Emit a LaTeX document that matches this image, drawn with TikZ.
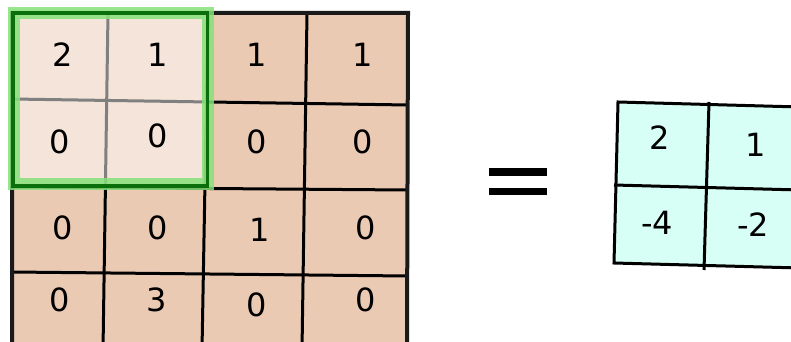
\documentclass[tikz,border=0pt]{standalone}
\usepackage{fontspec}
\setmainfont{DejaVu Sans}
\definecolor{cellA}{HTML}{EBCAB4}
\definecolor{cellB}{HTML}{D8FFF5}
\definecolor{gband}{HTML}{86E07A}
\definecolor{gdark}{HTML}{0A6E0A}
\definecolor{gridk}{HTML}{1A1A1A}
\tikzset{
  num/.style={font=\fontsize{32}{38}\selectfont, inner sep=0pt, anchor=center},
  border/.style={draw=gridk, line width=4pt},
  gline/.style={draw=black, line width=3pt},
}
\begin{document}
\begin{tikzpicture}[x=1pt,y=-1pt]
\useasboundingbox (0,0) rectangle (791,342);
\clip (0,0) rectangle (791,342);
% big grid fill
\fill[cellA] (12,13) -- (408,13) -- (407,350) -- (12,350) -- cycle;
% inner lines
\draw[gline] (12,99) -- (408,105);
\draw[gline] (12,187) -- (408,190);
\draw[gline] (12,272) -- (408,276);
\draw[gline] (108,13) -- (103,350);
\draw[gline] (208,13) -- (202,350);
\draw[gline] (307,13) -- (302,350);
% outer border
\draw[border] (12,350) -- (12,13) -- (408,13) -- (407,350);
% green window overlay
\fill[white, fill opacity=0.5] (14,13) rectangle (207.5,184);
\draw[gband, draw opacity=0.85, line width=12pt] (14,13) rectangle (207.5,184);
\draw[gdark, line width=3.5pt] (13,13) -- (207.5,13) -- (207.5,186) -- (13,186) -- cycle;
% numbers big grid
\node[num] (a11) at (63,55) {2};
\node[num] (a12) at (158,55) {1};
\node[num] (a13) at (257,55) {1};
\node[num] (a14) at (363,55) {1};
\node[num] (a21) at (60,142) {0};
\node[num] (a22) at (158,136) {0};
\node[num] (a23) at (257,142) {0};
\node[num] (a24) at (363,142) {0};
\node[num] (a31) at (63,228) {0};
\node[num] (a32) at (158,228) {0};
\node[num] (a33) at (260,230) {1};
\node[num] (a34) at (366,228) {0};
\node[num] (a41) at (60,300) {0};
\node[num] (a42) at (157,300) {3};
\node[num] (a43) at (257,305) {0};
\node[num] (a44) at (366,300) {0};
% equals sign
\fill[black] (489,168) rectangle (547,176);
\fill[black] (489,188) rectangle (547,195);
% result grid
\fill[cellB] (618,102) -- (800,107) -- (800,268) -- (614,263) -- cycle;
\draw[gline] (614,185) -- (800,190);
\draw[gline] (709,102) -- (704,270);
\draw[gline] (800,107) -- (618,102) -- (614,263) -- (800,268);
\node[num] (b11) at (660,138) {2};
\node[num] (b12) at (756,145) {1};
\node[num] (b21) at (657,223) {-4};
\node[num] (b22) at (753,225) {-2};
\end{tikzpicture}
\end{document}
